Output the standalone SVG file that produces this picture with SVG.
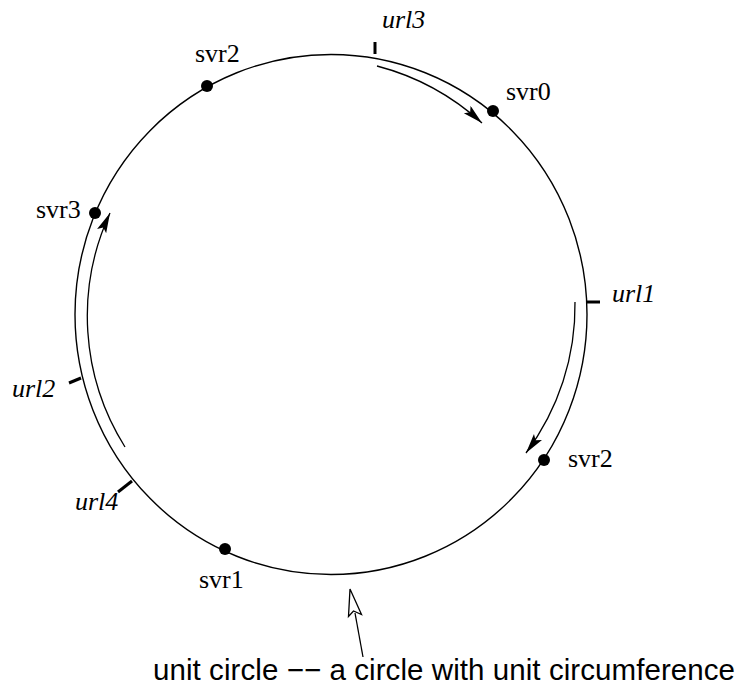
<svg xmlns="http://www.w3.org/2000/svg" width="740" height="687" viewBox="0 0 740 687">
<style>
.ring{fill:none;stroke:#000;stroke-width:1.4}
.arc{fill:none;stroke:#000;stroke-width:1.3}
.tick{stroke:#000;stroke-width:3;fill:none}
.dot{fill:#000}
.lbl{font-family:"Liberation Serif","Times New Roman",serif;font-size:26px;fill:#000}
.url{font-family:"Liberation Serif","Times New Roman",serif;font-size:26px;font-style:italic;fill:#000}
.cap{font-family:"Liberation Sans",Arial,sans-serif;font-size:29.5px;fill:#000}
</style>
<defs>
<marker id="ah" markerUnits="userSpaceOnUse" markerWidth="22" markerHeight="12" refX="20" refY="5" orient="auto">
<path d="M0,0 L20,5 L0,10 L4,5 Z" fill="#000"/>
</marker>
</defs>
<g id="circle">
<ellipse class="ring" cx="331" cy="314.5" rx="256" ry="260"/>
</g>
<g id="connectors">
<path class="arc" d="M377,66 A250,250 0 0 1 482,123" marker-end="url(#ah)"/>
<path class="arc" d="M575,302 A246,246 0 0 1 526,453" marker-end="url(#ah)"/>
<path class="arc" d="M125,447 A246,246 0 0 1 110,213" marker-end="url(#ah)"/>
<line x1="363" y1="657" x2="355" y2="613" stroke="#000" stroke-width="1.3"/>
<path d="M350,589 L361.5,614.5 L353.5,611 L348.5,616.5 Z" fill="#fff" stroke="#000" stroke-width="1.3" stroke-linejoin="miter"/>
</g>
<g id="ticks">
<line class="tick" x1="375" y1="42" x2="375" y2="54"/>
<line class="tick" x1="587" y1="302" x2="600" y2="302"/>
<line class="tick" x1="69" y1="383" x2="81" y2="378"/>
<line class="tick" x1="118" y1="492" x2="132" y2="481"/>
</g>
<g id="url3"><text class="url" x="382" y="28">url3</text></g>
<g id="url1"><text class="url" x="612" y="302">url1</text></g>
<g id="url2"><text class="url" x="12" y="397">url2</text></g>
<g id="url4"><text class="url" x="75" y="510">url4</text></g>
<g id="svr2-top"><circle class="dot" cx="207" cy="86" r="6"/><text class="lbl" x="195" y="62">svr2</text></g>
<g id="svr0"><circle class="dot" cx="493" cy="111" r="6"/><text class="lbl" x="506" y="100">svr0</text></g>
<g id="svr3"><circle class="dot" cx="95" cy="213" r="6"/><text class="lbl" x="36" y="218">svr3</text></g>
<g id="svr2-right"><circle class="dot" cx="544" cy="460" r="6"/><text class="lbl" x="568" y="467">svr2</text></g>
<g id="svr1"><circle class="dot" cx="225" cy="549" r="6"/><text class="lbl" x="199" y="588">svr1</text></g>
<g id="caption"><text class="cap" x="153" y="680" textLength="582">unit circle −− a circle with unit circumference</text></g>
</svg>
